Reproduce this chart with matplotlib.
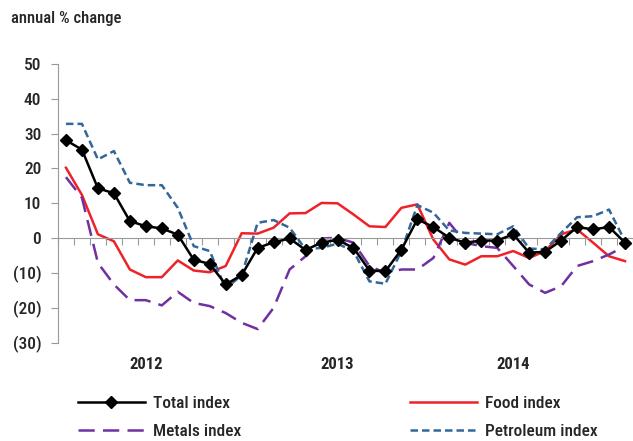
#!/usr/bin/env python3

import matplotlib
matplotlib.use("Agg")
import matplotlib.pyplot as plt
import matplotlib.transforms as mtransforms
from matplotlib.lines import Line2D

plt.rcParams["font.family"] = ["Roboto Condensed", "DejaVu Sans"]
plt.rcParams["font.weight"] = 500

# monthly, Jan 2012 .. Dec 2014
months = list(range(36))
years = ["2012", "2013", "2014"]
year_pos = [5, 17, 28]

total = [28.1, 25.4, 14.3, 12.9, 4.9, 3.4, 2.8, 1.0, -6.2, -7.4, -13.3, -10.6,
         -2.8, -1.2, -0.1, -3.4, -1.3, -0.5, -2.8, -9.3, -9.5, -3.3, 5.4, 3.2,
         0.1, -1.3, -0.7, -0.7, 1.1, -4.2, -3.9, -0.7, 3.2, 2.5, 3.2, -1.3]
food = [20.2, 12.4, 1.1, -0.9, -9.0, -11.2, -11.2, -6.4, -9.3, -9.8, -8.0, 1.4,
        1.3, 3.0, 7.1, 7.2, 10.1, 10.0, 6.8, 3.4, 3.2, 8.7, 9.7, -0.4,
        -6.1, -7.6, -5.2, -5.2, -3.7, -5.7, -3.7, 1.1, 2.5, -1.3, -5.2, -6.6]
metals = [17.5, 11.6, -7.1, -13.3, -17.8, -17.8, -19.3, -15.4, -18.6, -19.5, -21.5, -24.3,
          -26.1, -20.0, -9.0, -5.2, -0.1, 0.1, -1.3, -8.0, -10.0, -9.0, -9.0, -5.7,
          4.4, -1.3, -2.3, -2.8, -8.0, -13.3, -15.7, -13.8, -8.0, -6.6, -4.7, -2.3]
petroleum = [32.8, 32.8, 22.6, 25.0, 15.9, 15.2, 15.2, 8.7, -2.3, -3.7, -14.5, -10.6,
             4.4, 5.2, 3.0, -3.2, -2.8, -1.6, -3.7, -12.4, -13.1, -3.7, 9.5, 7.3,
             2.2, 1.5, 1.3, 1.1, 3.4, -3.0, -3.2, 1.5, 6.0, 6.3, 8.2, -0.9]

yticks = [50, 40, 30, 20, 10, 0, -10, -20, -30]
ytick_labels = ["50", "40", "30", "20", "10", "0", "(10)", "(20)", "(30)"]

text_color = "#262626"
axis_color = "#999999"
red = "#EE2229"
purple = "#7030A0"
blue = "#336699"

fig = plt.figure(figsize=(6.33, 4.41), dpi=100)
ax = fig.add_axes([0.0916, 0.223, 0.9084, 0.632])

ax.plot(months, food, color=red, lw=1.8, zorder=2)
ax.plot(months, metals, color=purple, lw=1.8, dashes=(6.5, 3.3), zorder=2)
ax.plot(months, petroleum, color=blue, lw=1.8, dashes=(3, 1.6), zorder=3)
ax.plot(months, total, color="black", lw=1.8, marker="D", ms=6, zorder=4)

ax.set_xlim(-0.5, 35.5)
ax.set_ylim(-30, 50)

ax.spines["top"].set_visible(False)
ax.spines["right"].set_visible(False)
ax.spines["left"].set_color(axis_color)
ax.spines["bottom"].set_color(axis_color)
ax.spines["bottom"].set_position(("data", 0))

ax.set_xticks([m - 0.5 for m in range(37)])
ax.set_xticklabels([])
ax.tick_params(axis="x", direction="out", length=5, color=axis_color)

ax.set_yticks(yticks)
ax.set_yticklabels(ytick_labels)
ax.tick_params(axis="y", direction="out", length=5, color=axis_color,
               labelsize=12.5, labelcolor=text_color, pad=7)

trans = mtransforms.blended_transform_factory(ax.transData, ax.transAxes)
for pos, yr in zip(year_pos, years):
    ax.text(pos, -0.079, yr, transform=trans, ha="center", va="center",
            fontsize=12, fontweight="bold", color=text_color)

fig.text(0.017, 1 - 18 / 441, "annual % change", ha="left", va="center",
         fontsize=12, color=text_color)

legend_kw = dict(loc="center left", frameon=False, fontsize=12.5,
                 handlelength=3.85, labelspacing=0.72, handletextpad=0.45,
                 borderpad=0, borderaxespad=0, labelcolor=text_color)

h_total = Line2D([], [], color="black", lw=1.8, marker="D", ms=6, markevery=[1])
h_metals = Line2D([], [], color=purple, lw=1.8, dashes=(6.5, 3.3))
h_food = Line2D([], [], color=red, lw=1.8)
h_petro = Line2D([], [], color=blue, lw=1.8, dashes=(3, 1.6))

leg1 = fig.legend([h_total, h_metals], ["Total index", "Metals index"],
                  bbox_to_anchor=(78 / 633, 1 - 417.5 / 441), **legend_kw)
leg2 = fig.legend([h_food, h_petro], ["Food index", "Petroleum index"],
                  bbox_to_anchor=(410 / 633, 1 - 417.5 / 441), **legend_kw)

fig.savefig("out.png", dpi=100)
